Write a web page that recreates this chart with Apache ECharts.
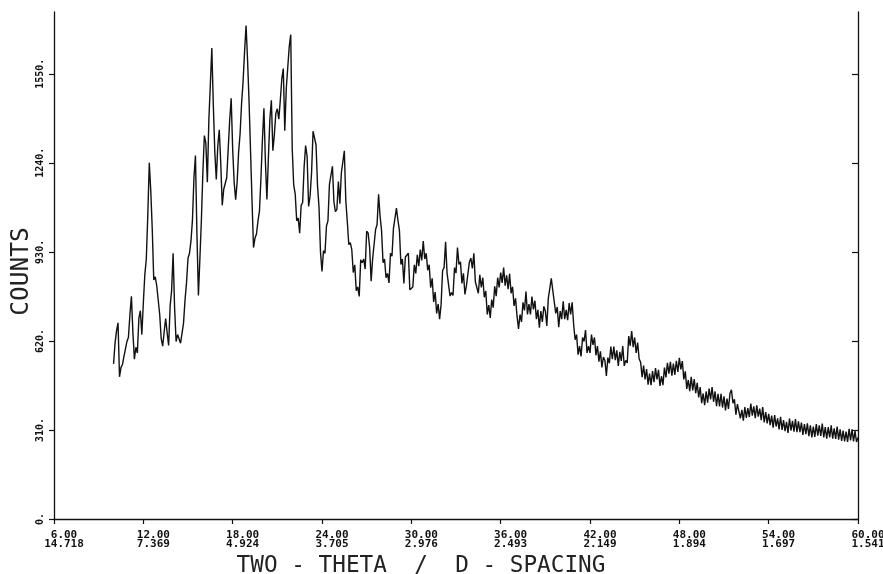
<!DOCTYPE html>
<html>
<head>
<meta charset="utf-8">
<script src="https://cdn.jsdelivr.net/npm/echarts@6/dist/echarts.min.js"></script>
<style>
html,body{margin:0;padding:0;background:#fff;}
#c{width:883px;height:574px;}
</style>
</head>
<body>
<div id="c"></div>
<script>
// Step-scan XRD pattern: start angle, step and counts
const scanStart = 10.0;
const scanStep = 0.1;
const counts = [
540,612,655,683,495,528,538,566,572,618,
633,712,775,648,556,598,578,698,725,642,
752,850,905,1058,1240,1142,1008,832,843,812,
806,712,628,602,652,698,648,604,742,795,
925,735,618,642,640,612,618,682,762,822,
908,925,968,1042,1188,1265,992,778,908,1042,
1208,1335,1308,1172,1388,1512,1640,1442,1278,1182,
1298,1355,1238,1092,1148,1168,1188,1192,1388,1465,
1288,1172,1112,1172,1278,1342,1448,1522,1628,1718,
1598,1455,1282,1108,945,978,992,1038,1072,1188,
1322,1430,1242,1112,1258,1392,1458,1282,1338,1412,
1428,1392,1458,1532,1568,1352,1498,1572,1645,1686,
1290,1162,1132,1038,1048,995,1092,1102,1226,1300,
1262,1088,1124,1206,1350,1345,1302,1160,1085,928,
862,934,925,1020,1038,1165,1168,1228,1105,1070,
1078,1175,1098,1205,1208,1282,1108,1035,955,962,
938,858,885,795,808,775,902,892,905,870,
1002,995,945,828,905,905,1008,1025,1130,1055,
1004,892,905,840,855,822,925,915,1012,1018,
1082,1040,1005,886,905,820,912,910,925,798,
798,808,885,855,920,880,938,900,968,905,
925,866,885,805,838,756,790,716,748,696,
748,865,875,965,856,862,776,788,778,875,
856,945,886,895,820,855,782,812,806,895,
908,872,925,826,824,786,850,806,840,772,
794,712,745,700,764,736,810,776,840,806,
858,822,875,812,848,800,854,786,808,742,
768,706,662,712,686,754,726,792,712,748,
712,774,730,760,696,728,666,724,686,740,
724,672,768,762,838,796,792,716,738,668,
724,696,758,696,728,692,752,712,754,678,
624,642,572,602,566,632,618,658,578,602,
578,642,606,632,570,602,548,584,528,564,
552,498,562,542,600,556,600,553,587,533,
582,550,602,533,552,543,637,603,654,598,
632,578,614,558,546,494,534,486,522,468,
506,466,515,476,525,486,519,463,497,466,
527,493,544,506,547,499,541,502,551,512,
561,521,550,486,514,453,484,445,495,448,
487,438,474,423,459,403,437,396,444,405,
454,416,459,408,444,393,436,392,436,388,
427,378,419,383,437,450,403,417,363,400,
394,350,380,342,390,352,386,355,402,360,
392,351,396,356,384,344,390,336,372,333,
366,327,360,318,362,322,350,312,356,310,
344,306,338,300,350,308,342,304,348,302,
340,302,336,293,330,295,333,288,326,284,
322,286,330,290,326,289,332,284,320,280,
320,284,326,280,316,279,322,276,312,272,
308,270,304,268,314,274,312,270,306,268,
284
];

// Axis ticks and labels
const twoThetaTicks = [6, 12, 18, 24, 30, 36, 42, 48, 54, 60];
const twoThetaLabels = ['6.00','12.00','18.00','24.00','30.00','36.00','42.00','48.00','54.00','60.00'];
const dSpacingLabels = ['14.718','7.369','4.924','3.705','2.976','2.493','2.149','1.894','1.697','1.541'];
const countTicks = [0, 310, 620, 930, 1240, 1550];
const countLabels = ['0.', '310.', '620.', '930.', '1240.', '1550.'];
const xTitle = 'TWO - THETA  /  D - SPACING';
const yTitle = 'COUNTS';

const seriesData = counts.map((c, i) => [+(scanStart + i * scanStep).toFixed(2), c]);

const chart = echarts.init(document.getElementById('c'), null, {renderer: 'canvas'});
const mono = "'DejaVu Sans Mono', monospace";
const ink = '#111';

chart.setOption({
  animation: false,
  backgroundColor: '#fff',
  grid: {left: 54, right: 25, top: 12, bottom: 55, outerBoundsMode: 'none', containLabel: false},
  xAxis: {
    type: 'value',
    min: 6, max: 60, interval: 6,
    axisLine: {lineStyle: {color: ink, width: 1.3}},
    axisTick: {show: true, length: 5, inside: false, lineStyle: {color: ink, width: 1.2}},
    splitLine: {show: false},
    axisLabel: {
      margin: 12,
      fontFamily: mono, fontWeight: 'bold', fontSize: 11, lineHeight: 9, color: ink,
      padding: [0, 0, 0, 20],
      formatter: function (v) {
        const i = twoThetaTicks.indexOf(Math.round(v));
        return i >= 0 ? twoThetaLabels[i] + '\n' + dSpacingLabels[i] : '';
      }
    },
    name: xTitle,
    nameLocation: 'middle',
    nameGap: 36,
    nameTextStyle: {fontFamily: mono, fontSize: 22.7, color: '#222', padding: [0, 70, 0, 0]}
  },
  yAxis: [{
    type: 'value',
    min: 0, max: 1765,
    position: 'left',
    axisLine: {show: true, lineStyle: {color: ink, width: 1.3}},
    axisTick: {show: true, length: 5, customValues: countTicks, lineStyle: {color: ink, width: 1.2}},
    splitLine: {show: false},
    axisLabel: {
      rotate: 90, margin: 9,
      customValues: countTicks,
      fontFamily: mono, fontWeight: 'bold', fontSize: 10, color: ink,
      formatter: function (v) {
        const i = countTicks.indexOf(Math.round(v));
        return i >= 0 ? countLabels[i] : '';
      }
    },
    name: yTitle,
    nameLocation: 'middle',
    nameRotate: 90,
    nameGap: 20,
    nameMoveOverlap: false,
    nameTextStyle: {fontFamily: mono, fontSize: 24.5, color: '#222', padding: [0, 12, 0, 0]}
  }, {
    type: 'value',
    min: 0, max: 1765,
    position: 'right',
    axisLine: {show: true, lineStyle: {color: ink, width: 1.3}},
    axisTick: {show: true, length: 6, inside: true, customValues: countTicks, lineStyle: {color: ink, width: 1.2}},
    axisLabel: {show: false},
    splitLine: {show: false}
  }],
  series: [{
    type: 'line',
    data: seriesData,
    showSymbol: false,
    symbol: 'none',
    sampling: null,
    lineStyle: {color: ink, width: 1.4},
    xAxisIndex: 0,
    yAxisIndex: 0
  }]
});
</script>
</body>
</html>
